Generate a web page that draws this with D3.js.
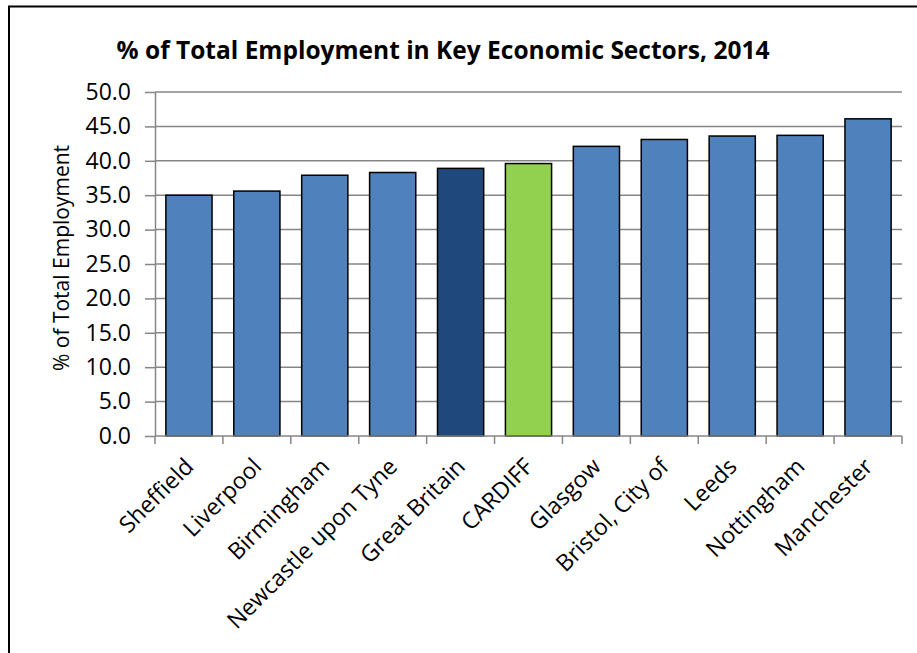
<!DOCTYPE html>
<html>
<head>
<meta charset="utf-8">
<script src="https://cdn.jsdelivr.net/npm/d3@7"></script>
<style>
  body { margin: 0; background: #fff; }
  svg { display: block; font-family: "Open Sans", sans-serif; }
</style>
</head>
<body>
<div id="chart"></div>
<script>
// ========== DATA ==========
const cities = ['Sheffield', 'Liverpool', 'Birmingham', 'Newcastle upon Tyne', 'Great Britain',
    'CARDIFF', 'Glasgow', 'Bristol, City of', 'Leeds', 'Nottingham', 'Manchester'];
const shares = [35.0, 35.6, 37.9, 38.3, 38.9, 39.6, 42.1, 43.1, 43.6, 43.7, 46.1];
const yTicks = [0, 5, 10, 15, 20, 25, 30, 35, 40, 45, 50];

const width = 917, height = 653;
const margin = { top: 92, right: 15, bottom: 217, left: 155 };
const innerW = width - margin.left - margin.right;
const innerH = height - margin.top - margin.bottom;

const svg = d3.select('#chart').append('svg')
    .attr('width', width)
    .attr('height', height);

// outer frame (right and bottom edges fall outside the picture)
svg.append('rect')
    .attr('x', 9).attr('y', 6.5)
    .attr('width', 950).attr('height', 700)
    .attr('fill', 'none')
    .attr('stroke', '#000')
    .attr('stroke-width', 2);

svg.append('text')
    .attr('x', 443).attr('y', 59)
    .attr('text-anchor', 'middle')
    .attr('font-size', '24.5px')
    .attr('font-weight', 'bold')
    .text('% of Total Employment in Key Economic Sectors, 2014');

const g = svg.append('g').attr('transform', `translate(${margin.left},${margin.top})`);

const x = d3.scaleBand().domain(cities).range([0, innerW]).paddingInner(0.32).paddingOuter(0.16);
const y = d3.scaleLinear().domain([0, 50]).range([innerH, 0]);

// gridlines
g.append('g')
    .selectAll('line')
    .data(yTicks.slice(1))
    .enter().append('line')
    .attr('x1', 0).attr('x2', innerW)
    .attr('y1', d => y(d)).attr('y2', d => y(d))
    .attr('stroke', '#868686')
    .attr('stroke-width', 1.5);

// bars
g.append('g')
    .selectAll('rect')
    .data(cities)
    .enter().append('rect')
    .attr('x', d => x(d))
    .attr('y', (d, i) => y(shares[i]))
    .attr('width', x.bandwidth())
    .attr('height', (d, i) => innerH - y(shares[i]))
    .attr('fill', d => d === 'CARDIFF' ? '#92D050' : d === 'Great Britain' ? '#1F497D' : '#4F81BD')
    .attr('stroke', '#000')
    .attr('stroke-width', 1.5);

// y axis
const yAxis = g.append('g')
    .call(d3.axisLeft(y).tickValues(yTicks).tickFormat(d3.format('.1f')).tickSize(10).tickSizeOuter(0));
yAxis.select('.domain').attr('stroke', '#868686').attr('stroke-width', 1.5);
yAxis.selectAll('.tick line').attr('stroke', '#868686').attr('stroke-width', 1.5);
yAxis.selectAll('.tick text')
    .attr('x', -24)
    .attr('fill', '#000')
    .attr('font-size', '23px')
    .attr('font-family', '"Open Sans", sans-serif');

// x axis: ticks sit on band boundaries
const bounds = d3.range(cities.length + 1).map(i => i * innerW / cities.length);
const xAxisG = g.append('g').attr('transform', `translate(0,${innerH})`);
xAxisG.append('line')
    .attr('x1', 0).attr('x2', innerW)
    .attr('stroke', '#868686').attr('stroke-width', 1.5);
xAxisG.selectAll('line.tk')
    .data(bounds)
    .enter().append('line')
    .attr('class', 'tk')
    .attr('x1', d => d).attr('x2', d => d)
    .attr('y1', 0).attr('y2', 8)
    .attr('stroke', '#868686').attr('stroke-width', 1.5);

xAxisG.selectAll('text')
    .data(cities)
    .enter().append('text')
    .attr('transform', d => `translate(${x(d) + x.bandwidth() / 2 + 6},${32}) rotate(-45)`)
    .attr('text-anchor', 'end')
    .attr('font-size', '23px')
    .text(d => d);

// y axis title
svg.append('text')
    .attr('transform', `translate(69,258) rotate(-90)`)
    .attr('text-anchor', 'middle')
    .attr('font-size', '21px')
    .text('% of Total Employment');
</script>
</body>
</html>
